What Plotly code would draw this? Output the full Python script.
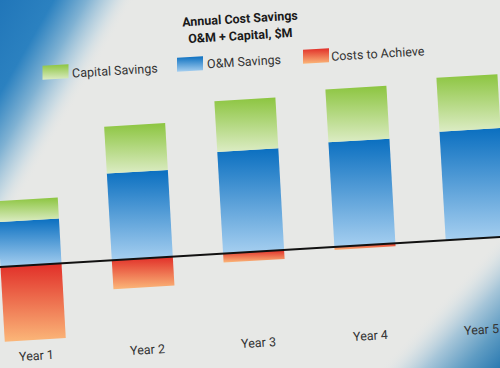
import base64
import plotly.graph_objects as go

# ---- data ($M) ----
years = ["Year 1", "Year 2", "Year 3", "Year 4", "Year 5"]
capital_savings = [2.1, 4.7, 5.1, 5.3, 5.4]
om_savings = [4.5, 8.7, 10.2, 10.5, 10.9]
costs_to_achieve = [7.5, 2.9, 0.9, 0.3, 0.0]
series_names = ["Capital Savings", "O&M Savings", "Costs to Achieve"]

# ---- styling / perspective approximation ----
W, H = 500, 368
PX_PER_UNIT = 10.0
BASE_Y0 = 267.0          # pixel y of the zero line at left edge
TILT = 0.006             # units of rise per x unit (baseline slope)
SHEAR = 0.57             # x shift per value unit (bars lean)
BAR_W = 61.0
X0, STEP = 31.0, 111.3
FONT = "Roboto, Lato, sans-serif"

green = ["#8cc540", "#dcecc4"]
blue = ["#0a6fc0", "#a6cff0"]
red = ["#e12e28", "#fbb779"]


def pt(xc, u, v):
    X = xc + u - SHEAR * v
    return X, v + TILT * X


def py(Y):
    return (BASE_Y0 - Y) / PX_PER_UNIT


fig = go.Figure()


def add_poly(xs, ys, cols):
    fig.add_trace(go.Scatter(
        x=xs + [xs[0]], y=ys + [ys[0]], mode="lines", fill="toself",
        line=dict(width=0, color="rgba(0,0,0,0)"),
        fillgradient=dict(type="vertical",
                          colorscale=[[0, cols[1]], [1, cols[0]]],
                          start=min(ys), stop=max(ys)),
        hoverinfo="skip", showlegend=False))


def seg(i, v0, v1, cols):
    xc = X0 + i * STEP
    pts = [pt(xc, -BAR_W / 2, v0), pt(xc, BAR_W / 2, v0),
           pt(xc, BAR_W / 2, v1), pt(xc, -BAR_W / 2, v1)]
    add_poly([p[0] for p in pts], [p[1] for p in pts], cols)


for i in range(len(years)):
    om = om_savings[i]
    cap = capital_savings[i]
    cost = costs_to_achieve[i]
    seg(i, 0, om, blue)
    seg(i, om, om + cap, green)
    if cost > 0:
        seg(i, -cost, 0, red)

# zero line
fig.add_trace(go.Scatter(x=[-5, 505], y=[TILT * -5, TILT * 505], mode="lines",
                         line=dict(color="#111", width=2), hoverinfo="skip",
                         showlegend=False))

ANG = -3.4
annotations = []
# year labels
for i, name in enumerate(years):
    X, Y = pt(X0 + i * STEP, 0, -9.1)
    annotations.append(dict(x=X, y=Y, xref="x", yref="y", text=name, showarrow=False,
                            textangle=ANG, font=dict(family=FONT, size=12.5, color="#333")))

# title
annotations.append(dict(x=240, y=py(18), xref="x", yref="y", text="<b>Annual Cost Savings</b>",
                        showarrow=False, textangle=ANG,
                        font=dict(family=FONT, size=12.5, color="#1a1a1a")))
annotations.append(dict(x=240, y=py(35), xref="x", yref="y", text="<b>O&M + Capital, $M</b>",
                        showarrow=False, textangle=ANG,
                        font=dict(family=FONT, size=12.5, color="#1a1a1a")))

# legend
leg = [(55.5, 72, 114.5, 70, green), (190, 64, 243.5, 61, blue), (316, 56, 378, 53, red)]
for (sx, sy, tx, ty, cols), name in zip(leg, series_names):
    xs, ys = [], []
    for du, dv in [(-13, -7), (13, -7), (13, 7), (-13, 7)]:
        Xp = sx + du
        Yp = sy + dv - 0.06 * du
        xs.append(Xp)
        ys.append(py(Yp))
    add_poly(xs, ys, cols)
    annotations.append(dict(x=tx, y=py(ty), xref="x", yref="y", text=name, showarrow=False,
                            textangle=ANG, font=dict(family=FONT, size=12.5, color="#333")))

svg = f'''<svg xmlns="http://www.w3.org/2000/svg" width="{W}" height="{H}" viewBox="0 0 {W} {H}">
<defs>
<linearGradient id="a" gradientUnits="userSpaceOnUse" x1="0" y1="0" x2="101" y2="58">
<stop offset="0" stop-color="#2176b9"/><stop offset="0.4" stop-color="#2b81c0"/>
<stop offset="0.65" stop-color="#80b2d3"/><stop offset="0.85" stop-color="#c6d9e3" stop-opacity="0.8"/>
<stop offset="1" stop-color="#e7e8e6" stop-opacity="0"/></linearGradient>
<linearGradient id="b" gradientUnits="userSpaceOnUse" x1="500" y1="368" x2="434" y2="308">
<stop offset="0" stop-color="#2b7ab1"/><stop offset="0.3" stop-color="#5f9cc3"/>
<stop offset="0.62" stop-color="#a7c6d9"/><stop offset="0.85" stop-color="#d6e0e4" stop-opacity="0.7"/>
<stop offset="1" stop-color="#e7e8e6" stop-opacity="0"/></linearGradient>
</defs>
<rect width="{W}" height="{H}" fill="#e7e8e6"/>
<rect width="{W}" height="{H}" fill="url(#a)"/>
<rect width="{W}" height="{H}" fill="url(#b)"/>
</svg>'''
src = "data:image/svg+xml;base64," + base64.b64encode(svg.encode()).decode()

fig.update_layout(
    width=W, height=H, margin=dict(l=0, r=0, t=0, b=0),
    paper_bgcolor="#e7e8e6", plot_bgcolor="rgba(0,0,0,0)",
    xaxis=dict(range=[0, W], visible=False, fixedrange=True),
    yaxis=dict(range=[py(H), py(0)], visible=False, fixedrange=True),
    annotations=annotations, showlegend=False,
    images=[dict(source=src, xref="paper", yref="paper", x=0, y=1, sizex=1, sizey=1,
                 sizing="stretch", xanchor="left", yanchor="top", layer="below")],
)
fig.write_html("out.html", config={"displayModeBar": False},
               post_script="document.body.style.margin='0';document.body.style.overflow='hidden';")
